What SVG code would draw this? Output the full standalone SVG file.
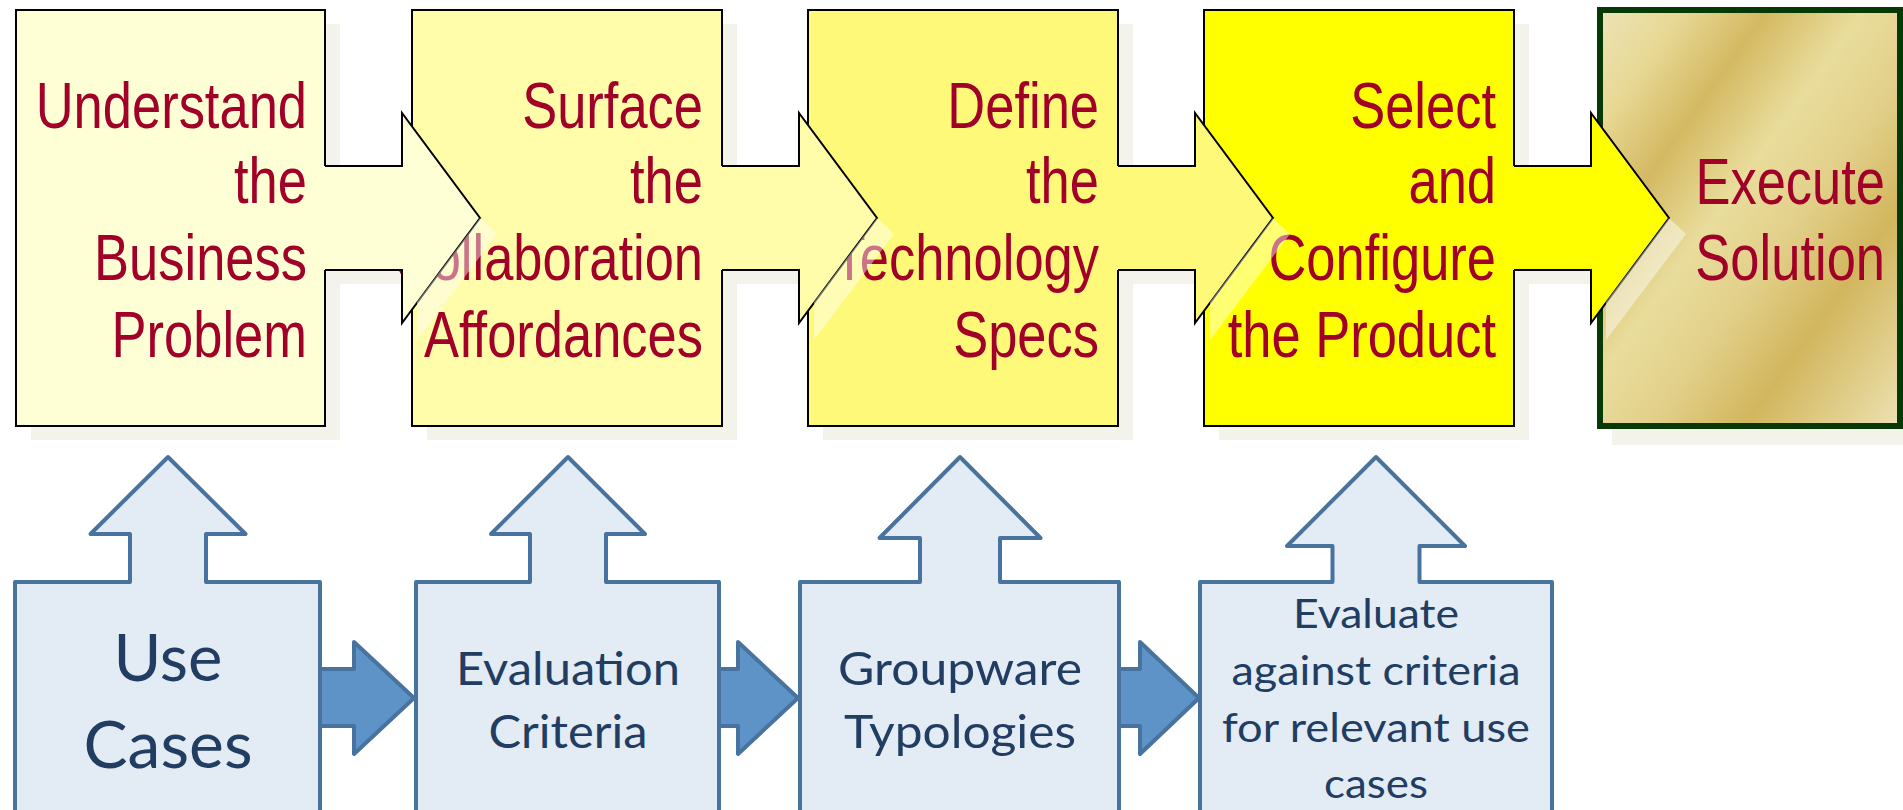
<svg xmlns="http://www.w3.org/2000/svg" width="1903" height="810" viewBox="0 0 1903 810">
<defs>
<linearGradient id="gold" x1="0" y1="0" x2="1" y2="1">
<stop offset="0" stop-color="#ede4b6"/>
<stop offset="0.14" stop-color="#e7d894"/>
<stop offset="0.28" stop-color="#d4b962"/>
<stop offset="0.44" stop-color="#e9dd9c"/>
<stop offset="0.58" stop-color="#e2d08a"/>
<stop offset="0.74" stop-color="#d2b65e"/>
<stop offset="0.9" stop-color="#e2d190"/>
<stop offset="1" stop-color="#ece2b4"/>
</linearGradient>
<style>
.top{stroke:#000;stroke-width:2}
.shadow{fill:#f3f3ec}
.ttxt{font-family:"Liberation Sans",Arial,sans-serif;font-size:64px;fill:#a10028;text-anchor:end}
.gloss{fill:#fff;opacity:0.45}
.bot{fill:#e3ebf5;stroke:#48739f;stroke-width:4;stroke-linejoin:round}
.barrow{fill:#5e93c8;stroke:#48739f;stroke-width:4;stroke-linejoin:round}
.btxt{font-family:Lato,"Open Sans",sans-serif;fill:#213d61;text-anchor:middle}
.astroke{fill:none;stroke:#000;stroke-width:2}
</style>
</defs>
<rect width="1903" height="810" fill="#fff"/>
<g id="shadows" class="shadow">
<path transform="translate(15,14)" d="M16,10 H325 V166 H402 V113 L480,218 L402,323 V270 H325 V426 H16 Z"/>
<path transform="translate(15,14)" d="M412,10 H722 V166 H799 V113 L877,218 L799,323 V270 H722 V426 H412 Z"/>
<path transform="translate(15,14)" d="M808,10 H1118 V166 H1195 V113 L1273,218 L1195,323 V270 H1118 V426 H808 Z"/>
<path transform="translate(15,14)" d="M1204,10 H1514 V166 H1591 V113 L1669,218 L1591,323 V270 H1514 V426 H1204 Z"/>
<rect x="1612" y="24" width="291" height="421"/>
</g>
<g id="n5">
<rect x="1600" y="10" width="300" height="416" fill="url(#gold)" stroke="#063906" stroke-width="6"/>
<text class="ttxt" transform="translate(1885,0) scale(0.82,1)"><tspan x="0" y="204">Execute</tspan><tspan x="0" y="280">Solution</tspan></text>
</g>
<g id="n4">
<rect class="top" x="1204" y="10" width="310" height="416" fill="#ffff00"/>
<text class="ttxt" transform="translate(1496,0) scale(0.82,1)"><tspan x="0" y="128">Select</tspan><tspan x="0" y="203">and</tspan><tspan x="0" y="280">Configure</tspan><tspan x="0" y="357">the Product</tspan></text>
</g>
<g id="n3">
<rect class="top" x="808" y="10" width="310" height="416" fill="#fff97a"/>
<text class="ttxt" transform="translate(1099,0) scale(0.82,1)"><tspan x="0" y="128">Define</tspan><tspan x="0" y="203">the</tspan><tspan x="0" y="280">Technology</tspan><tspan x="0" y="357">Specs</tspan></text>
</g>
<g id="n2">
<rect class="top" x="412" y="10" width="310" height="416" fill="#fffcaa"/>
<text class="ttxt" transform="translate(703,0) scale(0.82,1)"><tspan x="0" y="128">Surface</tspan><tspan x="0" y="203">the</tspan><tspan x="0" y="280">Collaboration</tspan><tspan x="0" y="357">Affordances</tspan></text>
</g>
<g id="n1">
<rect class="top" x="16" y="10" width="309" height="416" fill="#ffffd6"/>
<text class="ttxt" transform="translate(307,0) scale(0.82,1)"><tspan x="0" y="128">Understand</tspan><tspan x="0" y="203">the</tspan><tspan x="0" y="280">Business</tspan><tspan x="0" y="357">Problem</tspan></text>
</g>
<g id="b1">
<path class="bot" d="M15,582 H130 V534 H90.5 L168,457 L245.5,534 H206 V582 H320 V822 H15 Z"/>
<text class="btxt" font-size="65"><tspan x="168" y="681" textLength="109" lengthAdjust="spacingAndGlyphs">Use</tspan><tspan x="168" y="768" textLength="169" lengthAdjust="spacingAndGlyphs">Cases</tspan></text>
</g>
<g id="b2">
<path class="bot" d="M416,582 H530 V534 H491 L568,457 L645,534 H606 V582 H719 V822 H416 Z"/>
<text class="btxt" font-size="47"><tspan x="568" y="685" textLength="224" lengthAdjust="spacingAndGlyphs">Evaluation</tspan><tspan x="568" y="748" textLength="159" lengthAdjust="spacingAndGlyphs">Criteria</tspan></text>
</g>
<g id="b3">
<path class="bot" d="M800,582 H920 V538 H879.5 L960,457 L1040.5,538 H1000 V582 H1119 V822 H800 Z"/>
<text class="btxt" font-size="47"><tspan x="960" y="685" textLength="244" lengthAdjust="spacingAndGlyphs">Groupware</tspan><tspan x="960" y="748" textLength="232" lengthAdjust="spacingAndGlyphs">Typologies</tspan></text>
</g>
<g id="b4">
<path class="bot" d="M1200,582 H1332.5 V546 H1287 L1376,457 L1465,546 H1419.5 V582 H1552 V822 H1200 Z"/>
<text class="btxt" font-size="41.5"><tspan x="1376" y="628" textLength="166" lengthAdjust="spacingAndGlyphs">Evaluate</tspan><tspan x="1376" y="685" textLength="289" lengthAdjust="spacingAndGlyphs">against criteria</tspan><tspan x="1376" y="742" textLength="308" lengthAdjust="spacingAndGlyphs">for relevant use</tspan><tspan x="1376" y="798" textLength="104" lengthAdjust="spacingAndGlyphs">cases</tspan></text>
</g>
<g id="connectors">
<path fill="#ffffd6" d="M323.5,166 H402 V113 L480,218 L402,323 V270 H323.5 Z"/>
<path class="astroke" d="M325,166 H402 V113 L480,218 L402,323 V270 H325"/>
<polygon class="gloss" points="480,218 497,234 417,340 417,302"/>
<path fill="#fffcaa" d="M720.5,166 H799 V113 L877,218 L799,323 V270 H720.5 Z"/>
<path class="astroke" d="M722,166 H799 V113 L877,218 L799,323 V270 H722"/>
<polygon class="gloss" points="877,218 894,234 814,340 814,302"/>
<path fill="#fff97a" d="M1116.5,166 H1195 V113 L1273,218 L1195,323 V270 H1116.5 Z"/>
<path class="astroke" d="M1118,166 H1195 V113 L1273,218 L1195,323 V270 H1118"/>
<polygon class="gloss" points="1273,218 1290,234 1210,340 1210,302"/>
<path fill="#ffff00" d="M1512.5,166 H1591 V113 L1669,218 L1591,323 V270 H1512.5 Z"/>
<path class="astroke" d="M1514,166 H1591 V113 L1669,218 L1591,323 V270 H1514"/>
<polygon class="gloss" points="1669,218 1686,234 1606,340 1606,302"/>
<path class="barrow" d="M322,669 H354 V642 L414,698 L354,754 V726 H322"/>
<path class="barrow" d="M721,669 H738 V642 L798,698 L738,754 V726 H721"/>
<path class="barrow" d="M1121,669 H1140 V642 L1199,698 L1140,754 V726 H1121"/>
</g>
</svg>
